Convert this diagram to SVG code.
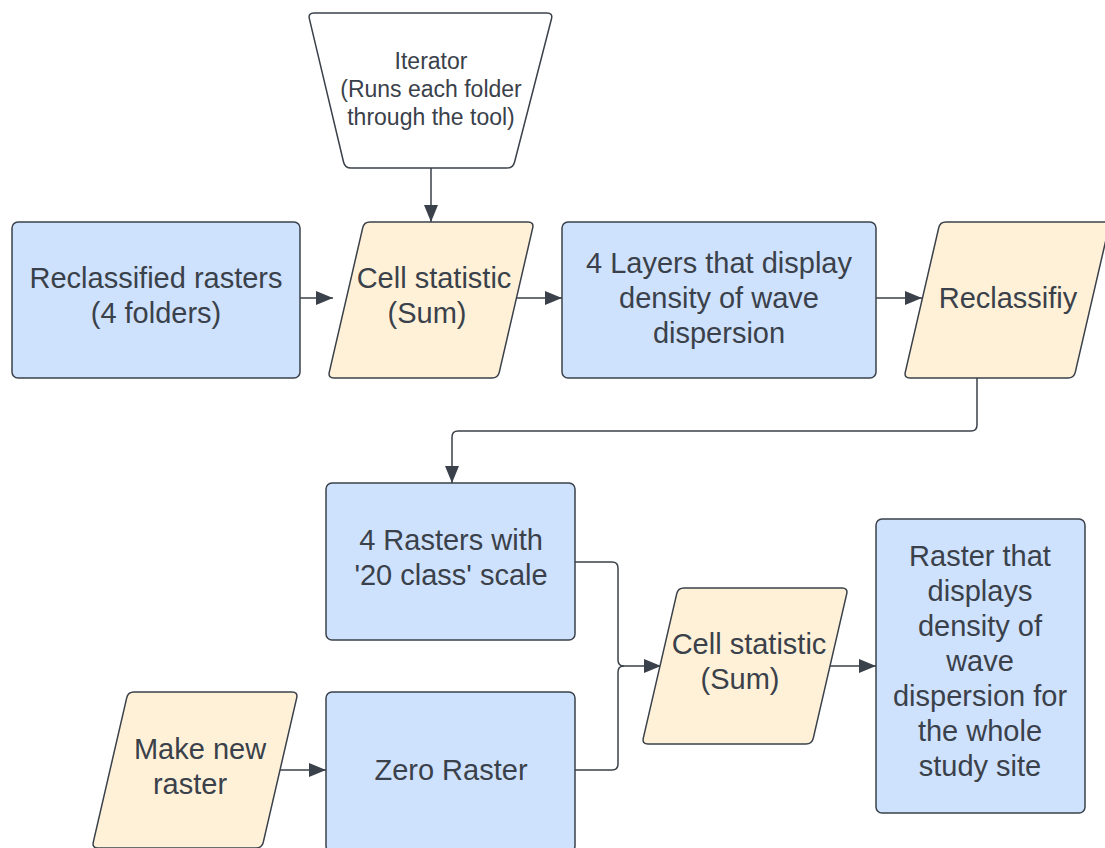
<svg xmlns="http://www.w3.org/2000/svg" width="1105" height="848" viewBox="0 0 1105 848">
  <style>
    .box { fill: #cfe2fd; stroke: #3a414a; stroke-width: 1.5; }
    .op { fill: #fff1d8; stroke: #3a414a; stroke-width: 1.5; }
    .term { fill: #ffffff; stroke: #3a414a; stroke-width: 1.5; }
    .lbl { font-family: "Liberation Sans", Arial, sans-serif; font-size: 29px; fill: #3a414a; text-anchor: middle; }
    .small { font-size: 23px; }
    .conn { fill: none; stroke: #3a414a; stroke-width: 1.5; }
  </style>
  <defs>
    <!-- rounded parallelogram used for process steps -->
    <path id="para" d="M 42,0 L 200,0 Q 206,0 204.7,5.9 L 171.3,150.1 Q 170,156 164,156 L 6,156 Q 0,156 1.3,150.1 L 34.7,5.9 Q 36,0 42,0 Z"/>
    <marker id="arrow" markerUnits="userSpaceOnUse" markerWidth="18" markerHeight="16" refX="17" refY="8" orient="auto">
      <path d="M 0,1 L 17,8 L 0,15 Z" fill="#3a414a"/>
    </marker>
  </defs>

  <rect width="1105" height="848" fill="#ffffff"/>

  <g id="connectors">
    <path class="conn" d="M 431,168 L 431,222" marker-end="url(#arrow)"/>
    <path class="conn" d="M 300,298 L 333,298" marker-end="url(#arrow)"/>
    <path class="conn" d="M 514,298 L 562,298" marker-end="url(#arrow)"/>
    <path class="conn" d="M 876,298 L 922,298" marker-end="url(#arrow)"/>
    <path class="conn" d="M 977,378 L 977,425 Q 977,431 971,431 L 458,431 Q 452,431 452,437 L 452,483" marker-end="url(#arrow)"/>
    <path class="conn" d="M 575,562 L 612,562 Q 618,562 618,568 L 618,660 Q 618,666 624,666 L 661,666" marker-end="url(#arrow)"/>
    <path class="conn" d="M 575,770 L 612,770 Q 618,770 618,764 L 618,672 Q 618,666 624,666"/>
    <path class="conn" d="M 828,666 L 876,666" marker-end="url(#arrow)"/>
    <path class="conn" d="M 279,770 L 326,770" marker-end="url(#arrow)"/>
  </g>

  <g id="iterator">
    <path class="term" d="M 314,13 L 547,13 Q 553,13 551.5,18.8 L 514.5,162.2 Q 513,168 507,168 L 351,168 Q 345,168 343.6,162.2 L 309.4,18.8 Q 308,13 314,13 Z"/>
    <text class="lbl small" x="431" y="69">Iterator</text>
    <text class="lbl small" x="431" y="97">(Runs each folder</text>
    <text class="lbl small" x="431" y="125">through the tool)</text>
  </g>

  <g id="reclassified-rasters">
    <rect class="box" x="12" y="222" width="288" height="156" rx="6"/>
    <text class="lbl" x="156" y="288">Reclassified rasters</text>
    <text class="lbl" x="156" y="323">(4 folders)</text>
  </g>

  <g id="cell-statistic-1">
    <use href="#para" class="op" x="328" y="222"/>
    <text class="lbl" x="434" y="288">Cell statistic</text>
    <text class="lbl" x="427" y="323">(Sum)</text>
  </g>

  <g id="four-layers">
    <rect class="box" x="562" y="222" width="314" height="156" rx="6"/>
    <text class="lbl" x="719" y="273">4 Layers that display</text>
    <text class="lbl" x="719" y="308">density of wave</text>
    <text class="lbl" x="719" y="343">dispersion</text>
  </g>

  <g id="reclassify">
    <use href="#para" class="op" x="904" y="222"/>
    <text class="lbl" x="1008" y="308">Reclassifiy</text>
  </g>

  <g id="four-rasters">
    <rect class="box" x="326" y="483" width="249" height="157" rx="6"/>
    <text class="lbl" x="451" y="550">4 Rasters with</text>
    <text class="lbl" x="451" y="585">'20 class' scale</text>
  </g>

  <g id="cell-statistic-2">
    <use href="#para" class="op" x="642" y="588"/>
    <text class="lbl" x="749" y="654">Cell statistic</text>
    <text class="lbl" x="740" y="689">(Sum)</text>
  </g>

  <g id="result-raster">
    <rect class="box" x="876" y="519" width="209" height="294" rx="6"/>
    <text class="lbl" x="980" y="566">Raster that</text>
    <text class="lbl" x="980" y="601">displays</text>
    <text class="lbl" x="980" y="636">density of</text>
    <text class="lbl" x="980" y="671">wave</text>
    <text class="lbl" x="980" y="706">dispersion for</text>
    <text class="lbl" x="980" y="741">the whole</text>
    <text class="lbl" x="980" y="776">study site</text>
  </g>

  <g id="make-new-raster">
    <use href="#para" class="op" x="92" y="692"/>
    <text class="lbl" x="200" y="759">Make new</text>
    <text class="lbl" x="190" y="794">raster</text>
  </g>

  <g id="zero-raster">
    <rect class="box" x="326" y="692" width="249" height="160" rx="6"/>
    <text class="lbl" x="451" y="780">Zero Raster</text>
  </g>
</svg>
